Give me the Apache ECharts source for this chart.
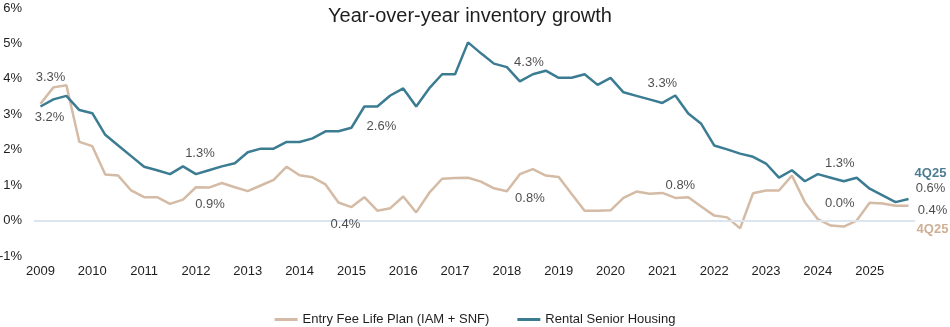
<!DOCTYPE html>
<html><head><meta charset="utf-8">
<script src="https://cdn.jsdelivr.net/npm/echarts@6/dist/echarts.min.js"></script>
<style>html,body{margin:0;padding:0;background:#fff}#c{width:950px;height:327px}</style>
</head><body><div id="c"></div>
<script>
// ---- data ----
const yearLabels = ['2009','2010','2011','2012','2013','2014','2015','2016','2017','2018','2019','2020','2021','2022','2023','2024','2025'];
const quarterNames = ['Q1','Q2','Q3','Q4'];
const seriesNames = ['Entry Fee Life Plan (IAM + SNF)', 'Rental Senior Housing'];
const entryFee = [3.30,3.76,3.82,2.22,2.10,1.30,1.27,0.85,0.66,0.66,0.47,0.59,0.94,0.93,1.06,0.94,0.83,0.99,1.15,1.52,
  1.28,1.22,1.02,0.51,0.38,0.66,0.28,0.35,0.68,0.23,0.78,1.18,1.20,1.21,1.10,0.91,0.83,1.31,1.45,1.27,
  1.23,0.75,0.28,0.28,0.29,0.64,0.82,0.76,0.78,0.64,0.66,0.40,0.14,0.09,-0.22,0.77,0.85,0.85,1.27,0.52,
  0.04,-0.14,-0.17,0.00,0.50,0.48,0.42,0.42];
const rental = [3.22,3.42,3.52,3.12,3.03,2.42,2.12,1.82,1.52,1.42,1.31,1.53,1.31,1.42,1.53,1.62,1.93,2.03,2.03,2.22,
  2.22,2.32,2.52,2.52,2.62,3.22,3.22,3.53,3.73,3.22,3.73,4.13,4.13,5.03,4.72,4.43,4.33,3.93,4.13,4.23,
  4.03,4.03,4.13,3.83,4.03,3.62,3.52,3.42,3.32,3.53,3.02,2.73,2.12,2.01,1.89,1.80,1.61,1.21,1.42,1.11,
  1.31,1.21,1.11,1.21,0.90,0.71,0.52,0.61];
const labelIndices = [0,12,24,36,48,60];
const lastPeriod = '4Q25';
const yMin = -1, yMax = 6, yStep = 1;

// ---- styling ----
const BLUE = '#3B7C93', TAN = '#D4BBA5', BLUE_DARK = '#1F5B77', TAN_DARK = '#C29B78', TXT = '#1E1E1E';
const FONT = 'Liberation Sans, Arial, sans-serif';
const entryOffsets = [[10,-26],[14,17],[-6,17],[23,7],[18,-7.5],[22,-16]];
const rentalOffsets = [[9,11],[4,-21],[30,-1],[22,-5],[0,-19.5],[22,-10.5]];

const categories = [];
yearLabels.forEach(y => quarterNames.forEach(q => categories.push(y + q)));
categories.length = entryFee.length;

function pct(v){ return v.toFixed(1) + '%'; }

function labelPoints(values, offsets){
  return labelIndices.map((idx, k) => ({
    value: [idx, values[idx]],
    label: { offset: offsets[k], formatter: pct(values[idx]) }
  }));
}
const last = entryFee.length - 1;

const option = {
  animation: false,
  backgroundColor: '#fff',
  textStyle: { fontFamily: FONT },
  title: {
    text: 'Year-over-year inventory growth',
    left: 465, top: 1, textAlign: 'center',
    textStyle: { fontFamily: FONT, fontSize: 20, fontWeight: 'normal', color: TXT }
  },
  grid: { left: 34, right: 35, top: 8, bottom: 71, outerBoundsMode: 'none', containLabel: false },
  legend: {
    data: seriesNames,
    left: 'center', top: 308,
    icon: 'rect', itemWidth: 23, itemHeight: 3, itemGap: 28,
    textStyle: { fontFamily: FONT, fontSize: 13, color: TXT }
  },
  xAxis: {
    type: 'category', data: categories, boundaryGap: true,
    axisLine: { show: false }, axisTick: { show: false },
    axisLabel: { interval: 3, margin: 9, color: TXT, fontSize: 13, fontFamily: FONT,
      formatter: v => v.slice(0,4) },
    splitLine: { show: false }
  },
  yAxis: {
    type: 'value', min: yMin, max: yMax, interval: yStep,
    axisLine: { show: false }, axisTick: { show: false }, splitLine: { show: false },
    axisLabel: { margin: 12, color: TXT, fontSize: 13, fontFamily: FONT, formatter: v => v + '%' }
  },
  series: [
    {
      name: seriesNames[0], type: 'line', data: entryFee, showSymbol: false, symbol: 'none',
      lineStyle: { color: TAN, width: 2.5 }, itemStyle: { color: TAN },
      markLine: { silent: true, symbol: ['none','none'], label: { show: false },
        lineStyle: { color: '#DCE4EE', width: 2, type: 'solid' }, data: [{ yAxis: 0 }] },
      z: 2
    },
    {
      name: seriesNames[1], type: 'line', data: rental, showSymbol: false, symbol: 'none',
      lineStyle: { color: BLUE, width: 2.5 }, itemStyle: { color: BLUE }, z: 3
    },
    {
      name: 'entryLabels', type: 'scatter', symbolSize: 1, itemStyle: { color: 'rgba(0,0,0,0)' },
      silent: true, z: 5,
      label: { show: true, position: 'inside', color: TXT, fontSize: 13, fontFamily: FONT },
      data: labelPoints(entryFee, entryOffsets).concat([{
        value: [last, entryFee[last]],
        label: { offset: [24, 14], formatter: '{v|' + pct(entryFee[last]) + '}\n{b|' + lastPeriod + '}' }
      }])
    },
    {
      name: 'rentalLabels', type: 'scatter', symbolSize: 1, itemStyle: { color: 'rgba(0,0,0,0)' },
      silent: true, z: 5,
      label: { show: true, position: 'inside', color: TXT, fontSize: 13, fontFamily: FONT },
      data: labelPoints(rental, rentalOffsets).concat([{
        value: [last, rental[last]],
        label: { offset: [22, -18], formatter: '{b|' + lastPeriod + '}\n{v|' + pct(rental[last]) + '}' }
      }])
    }
  ]
};
// rich styles for the final-period labels
option.series[2].label.rich = {
  v: { color: TXT, fontSize: 13, fontFamily: FONT, lineHeight: 19 },
  b: { color: TAN_DARK, fontSize: 13, fontWeight: 'bold', fontFamily: FONT, lineHeight: 19 }
};
option.series[3].label.rich = {
  v: { color: TXT, fontSize: 13, fontFamily: FONT, lineHeight: 15 },
  b: { color: BLUE_DARK, fontSize: 13, fontWeight: 'bold', fontFamily: FONT, lineHeight: 15 }
};

const chart = echarts.init(document.getElementById('c'), null, { renderer: 'canvas' });
chart.setOption(option);
</script>
</body></html>
